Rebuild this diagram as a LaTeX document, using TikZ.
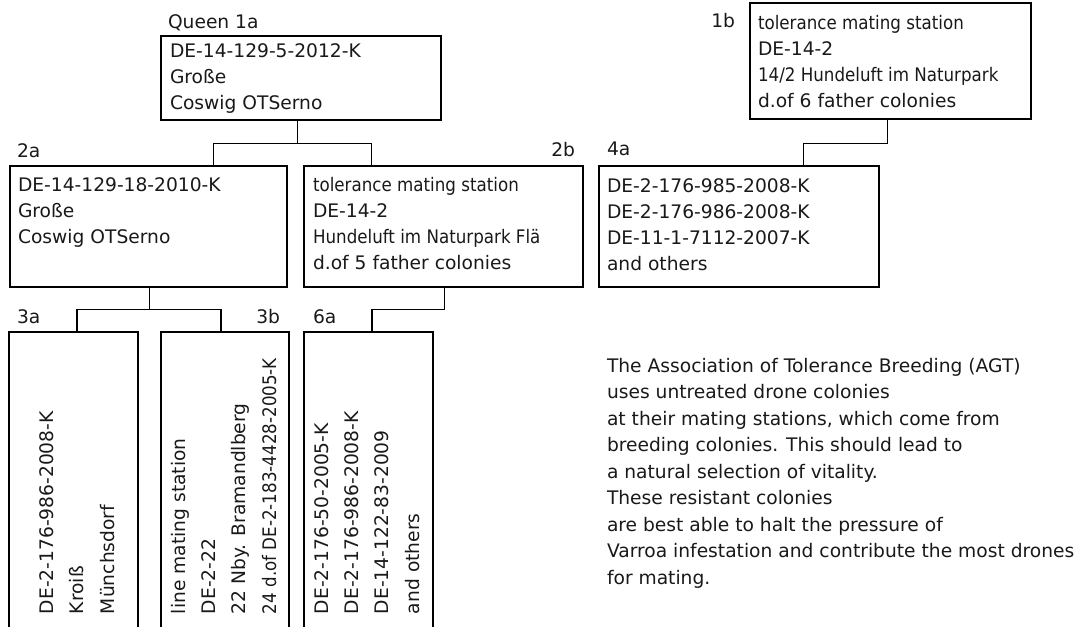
\documentclass[tikz,border=0pt]{standalone}
\usepackage{fontspec}
\setmainfont{DejaVu Sans}
\usepackage{graphicx}
\usetikzlibrary{fit,calc}
\newcommand{\cnd}[1]{\scalebox{0.895}[1]{#1}}
\begin{document}
\begin{tikzpicture}[x=0.75pt,y=-0.75pt,
  box/.style={draw=black, line width=0.8pt, inner sep=0pt},
  txt/.style={anchor=base west, inner sep=0pt, outer sep=0pt, font=\fontsize{14}{16.8}\selectfont, text=black!90},
  txtr/.style={txt, anchor=base east},
  vtxt/.style={txt, rotate=90},
  conn/.style={draw=black, line width=0.8pt}]
\path[use as bounding box, clip] (0,0) rectangle (1078,626);

% boxes
\node[box, fit={(161,36) (441,120)}] (q) {};
\node[box, fit={(10,166) (287,287)}] (a2) {};
\node[box, fit={(304,166) (583,287)}] (b2) {};
\node[box, fit={(750,3) (1031,119)}] (b1) {};
\node[box, fit={(599,166) (879,287)}] (a4) {};
\node[box, fit={(9,332) (138,660)}] (a3) {};
\node[box, fit={(161,332) (289,660)}] (b3) {};
\node[box, fit={(304,332) (433,660)}] (a6) {};

% connectors
\draw[conn] ($(q.south west)!0.486!(q.south east)$) -- ++(0,23) -| ($(a2.north west)!0.733!(a2.north east)$);
\draw[conn] ($(q.south west)!0.486!(q.south east)$) -- ++(0,23) -| ($(b2.north west)!0.244!(b2.north east)$);
\draw[conn] ($(b1.south west)!0.488!(b1.south east)$) -- ++(0,24) -| ($(a4.north west)!0.729!(a4.north east)$);
\draw[conn] ($(a2.south west)!0.502!(a2.south east)$) -- ++(0,22) -| ($(a3.north west)!0.527!(a3.north east)$);
\draw[conn] ($(a2.south west)!0.502!(a2.south east)$) -- ++(0,22) -| ($(b3.north west)!0.469!(b3.north east)$);
\draw[conn] ($(b2.south west)!0.502!(b2.south east)$) -- ++(0,22) -| ($(a6.north west)!0.527!(a6.north east)$);

% labels
\node[txt] (lq) at (168,28) {Queen 1a};
\node[txt] (l2a) at (17,157) {2a};
\node[txtr] (l2b) at (575,156) {2b};
\node[txtr] (l1b) at (735,27.3) {1b};
\node[txt] (l4a) at (607,155) {4a};
\node[txt] (l3a) at (17,323) {3a};
\node[txtr] (l3b) at (280,323) {3b};
\node[txt] (l6a) at (313,323) {6a};

% box texts
\foreach \t [count=\i] in {DE-14-129-5-2012-K, Große, Coswig OTSerno}
  \node[txt] (qt\i) at (170,{57.5+25.8*(\i-1)}) {\t};
\foreach \t [count=\i] in {DE-14-129-18-2010-K, Große, Coswig OTSerno}
  \node[txt] (a2t\i) at (18,{191+26.3*(\i-1)}) {\t};
\foreach \t [count=\i] in {\cnd{tolerance mating station}, DE-14-2, \cnd{Hundeluft im Naturpark Flä}, d.of 5 father colonies}
  \node[txt] (b2t\i) at (313,{191+26.3*(\i-1)}) {\t};
\foreach \t [count=\i] in {\cnd{tolerance mating station}, DE-14-2, \cnd{14/2 Hundeluft im Naturpark}, d.of 6 father colonies}
  \node[txt] (b1t\i) at (758,{29.3+26*(\i-1)}) {\t};
\foreach \t [count=\i] in {DE-2-176-985-2008-K, DE-2-176-986-2008-K, DE-11-1-7112-2007-K, and others}
  \node[txt] (a4t\i) at (607,{192+26*(\i-1)}) {\t};

% rotated texts
\foreach \t [count=\i] in {DE-2-176-986-2008-K, Kroiß, Münchsdorf}
  \node[vtxt] (a3t\i) at ({53+30.5*(\i-1)},614) {\t};
\foreach \t [count=\i] in {line mating station, DE-2-22, 22 Nby. Bramandlberg, \cnd{24 d.of DE-2-183-4428-2005-K}}
  \node[vtxt] (b3t\i) at ({185+30.4*(\i-1)},614) {\t};
\foreach \t [count=\i] in {DE-2-176-50-2005-K, DE-2-176-986-2008-K, DE-14-122-83-2009, and others}
  \node[vtxt] (a6t\i) at ({328+30.4*(\i-1)},614) {\t};

% paragraph
\foreach \t [count=\i] in {The Association of Tolerance Breeding (AGT), uses untreated drone colonies, {at their mating stations, which come from}, breeding colonies. This should lead to, a natural selection of vitality., These resistant colonies, are best able to halt the pressure of, Varroa infestation and contribute the most drones, for mating.}
  \node[txt] (p\i) at (607,{372+26.5*(\i-1)}) {\t};
\end{tikzpicture}
\end{document}
